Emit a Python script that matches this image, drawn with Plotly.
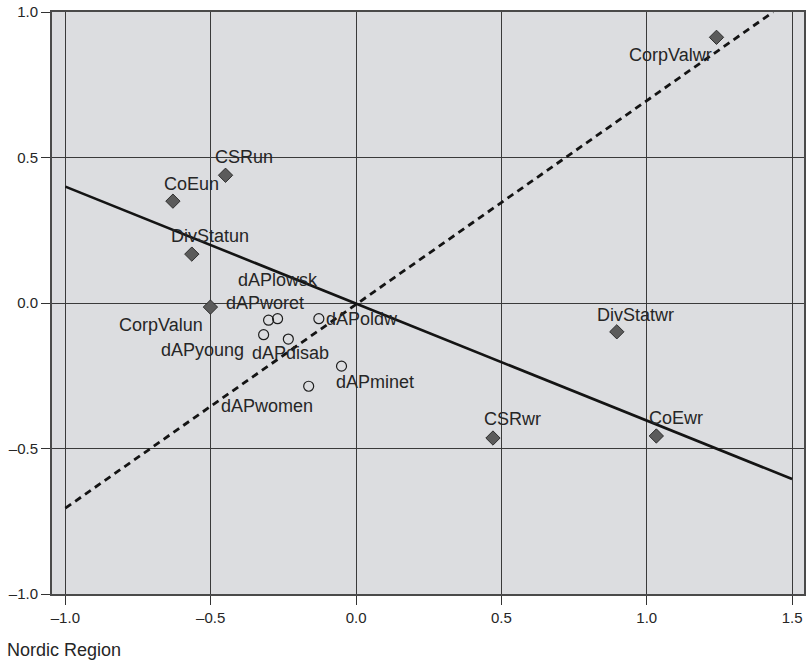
import plotly.graph_objects as go

# ---- data ----
diamond_labels = ["CorpValwr", "CSRun", "CoEun", "DivStatun", "CorpValun", "DivStatwr", "CSRwr", "CoEwr"]
diamond_x = [1.240, -0.449, -0.630, -0.565, -0.501, 0.897, 0.471, 1.033]
diamond_y = [0.913, 0.439, 0.350, 0.168, -0.014, -0.099, -0.464, -0.457]

circle_labels = ["dAPworet", "dAPlowsk", "dAPoldw", "dAPyoung", "dAPdisab", "dAPminet", "dAPwomen"]
circle_x = [-0.301, -0.270, -0.128, -0.318, -0.233, -0.050, -0.163]
circle_y = [-0.059, -0.054, -0.054, -0.109, -0.124, -0.217, -0.286]

solid_x = [-1.0, 1.5]
solid_y = [0.40, -0.605]
dash_x = [-1.0, 1.435]
dash_y = [-0.705, 1.0]

x_tickvals = [-1.0, -0.5, 0.0, 0.5, 1.0, 1.5]
x_ticktext = ["\u20131.0", "\u20130.5", "0.0", "0.5", "1.0", "1.5"]
y_tickvals = [-1.0, -0.5, 0.0, 0.5, 1.0]
y_ticktext = ["\u20131.0", "\u20130.5", "0.0", "0.5", "1.0"]

footer = "Nordic Region"

# ---- label placement (pixel offsets, style only) ----
diamond_offsets = [(-46, -18), (18, 18), (19, 17), (18, 18), (-49, -18), (19, 17), (20, 19), (20, 18)]
circle_offsets = [(-4, 17), (0, 39), (43, 0), (-61, -15), (2, -14), (33, -16), (-42, -20)]

FONT = "Liberation Sans, Arial, Helvetica, sans-serif"
TXT = "#262626"

fig = go.Figure()

fig.add_trace(go.Scatter(x=solid_x, y=solid_y, mode="lines",
                         line=dict(color="#141414", width=2.6), hoverinfo="skip"))
fig.add_trace(go.Scatter(x=dash_x, y=dash_y, mode="lines",
                         line=dict(color="#141414", width=2.8, dash="7px,5px"), hoverinfo="skip"))

fig.add_trace(go.Scatter(x=diamond_x, y=diamond_y, mode="markers",
                         marker=dict(symbol="diamond", size=11, color="#5b5b5b",
                                     line=dict(color="#2e2e2e", width=1)),
                         hoverinfo="skip"))
fig.add_trace(go.Scatter(x=circle_x, y=circle_y, mode="markers",
                         marker=dict(symbol="circle", size=10, color="rgba(0,0,0,0)",
                                     line=dict(color="#1e1e1e", width=1.2)),
                         hoverinfo="skip"))

annotations = []
for lab, x, y, (dx, dy) in zip(diamond_labels, diamond_x, diamond_y, diamond_offsets):
    annotations.append(dict(x=x, y=y, xref="x", yref="y", text=lab, showarrow=False,
                            xshift=dx, yshift=dy, font=dict(family=FONT, size=18, color=TXT)))
for lab, x, y, (dx, dy) in zip(circle_labels, circle_x, circle_y, circle_offsets):
    annotations.append(dict(x=x, y=y, xref="x", yref="y", text=lab, showarrow=False,
                            xshift=dx, yshift=dy, font=dict(family=FONT, size=18, color=TXT)))
annotations.append(dict(x=-0.0623, y=-0.096, xref="paper", yref="paper", text=footer,
                        showarrow=False, xanchor="left", yanchor="middle",
                        font=dict(family=FONT, size=18, color=TXT)))

fig.update_layout(
    width=809, height=664,
    margin=dict(l=52, r=3, t=12, b=70),
    paper_bgcolor="white",
    plot_bgcolor="#dcdde0",
    showlegend=False,
    annotations=annotations,
    font=dict(family=FONT, color=TXT),
)
fig.update_xaxes(range=[-1.046, 1.541], tickvals=x_tickvals, ticktext=x_ticktext,
                 showgrid=True, gridcolor="#3a3a3a", gridwidth=1, zeroline=False,
                 showline=True, linecolor="#4a4a4a", linewidth=2, mirror=True,
                 ticks="outside", ticklen=9, tickcolor="#333", tickwidth=1,
                 ticklabeloverflow="allow",
                 tickfont=dict(family=FONT, size=15, color=TXT))
fig.update_yaxes(range=[-1, 1], tickvals=y_tickvals, ticktext=y_ticktext,
                 showgrid=True, gridcolor="#3a3a3a", gridwidth=1, zeroline=False,
                 showline=True, linecolor="#4a4a4a", linewidth=2, mirror=True,
                 ticks="outside", ticklen=9, tickcolor="#333", tickwidth=1,
                 ticklabeloverflow="allow",
                 tickfont=dict(family=FONT, size=15, color=TXT))

fig.write_html("out.html",
               config={"displayModeBar": False},
               post_script="document.body.style.margin='0';document.body.style.overflow='hidden';")
